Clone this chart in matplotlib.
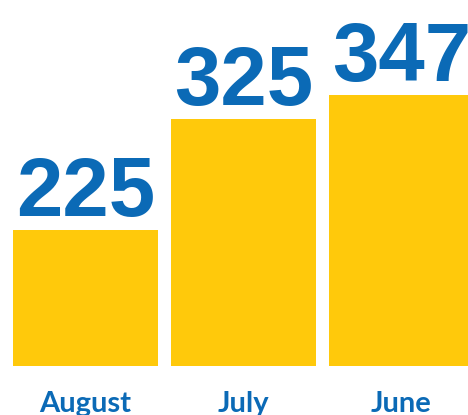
import matplotlib.pyplot as plt
from matplotlib import transforms

months = ["August", "July", "June"]
counts = [225, 325, 347]

bar_color = "#FFC90B"
text_color = "#0B6AB6"

fig = plt.figure(figsize=(4.68, 4.15), dpi=100)
ax = fig.add_axes([0, 0.118, 1, 0.882])

x = range(len(months))
bars = ax.bar(x, counts, width=0.917, color=bar_color)

ax.set_xlim(-0.541, 2.421)
ax.set_ylim(101.7, 432.4)

for b, v in zip(bars, counts):
    ax.annotate(str(v), (b.get_x() + b.get_width() / 2, v),
                xytext=(0, 10), textcoords="offset points",
                ha="center", va="baseline", fontsize=60,
                fontweight="bold", family="Liberation Sans", color=text_color)

trans = transforms.blended_transform_factory(ax.transData, ax.transAxes)
for i, m in enumerate(months):
    ax.text(i, -0.126, m, transform=trans, ha="center", va="baseline",
            fontsize=21, fontweight="bold", family="Lato", color=text_color)

ax.axis("off")
fig.savefig("out.png", dpi=100)
